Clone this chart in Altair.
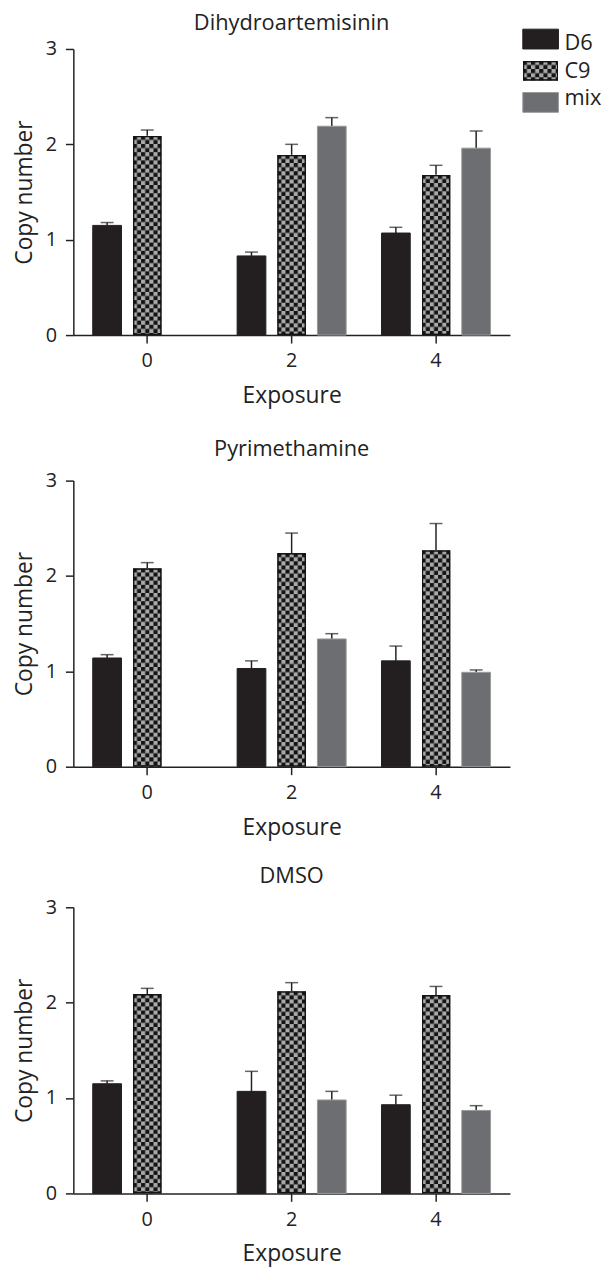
import base64
import altair as alt
import pandas as pd

FONT = "Open Sans"

exposures = ["0", "2", "4"]
series = ["D6", "C9", "mix"]
panels = ["Dihydroartemisinin", "Pyrimethamine", "DMSO"]

# mean copy number per panel / series (exposure 0, 2, 4)
dha_d6 = [1.15, 0.83, 1.07]
dha_c9 = [2.09, 1.89, 1.68]
dha_mix = [None, 2.19, 1.96]
dha_d6_err = [0.03, 0.04, 0.06]
dha_c9_err = [0.06, 0.11, 0.10]
dha_mix_err = [None, 0.09, 0.18]

pyr_d6 = [1.14, 1.03, 1.11]
pyr_c9 = [2.08, 2.24, 2.27]
pyr_mix = [None, 1.34, 0.99]
pyr_d6_err = [0.035, 0.08, 0.155]
pyr_c9_err = [0.06, 0.21, 0.28]
pyr_mix_err = [None, 0.055, 0.025]

dmso_d6 = [1.15, 1.07, 0.93]
dmso_c9 = [2.09, 2.12, 2.08]
dmso_mix = [None, 0.98, 0.87]
dmso_d6_err = [0.03, 0.21, 0.10]
dmso_c9_err = [0.06, 0.09, 0.09]
dmso_mix_err = [None, 0.09, 0.05]

panel_values = {
    "Dihydroartemisinin": [(dha_d6, dha_d6_err), (dha_c9, dha_c9_err), (dha_mix, dha_mix_err)],
    "Pyrimethamine": [(pyr_d6, pyr_d6_err), (pyr_c9, pyr_c9_err), (pyr_mix, pyr_mix_err)],
    "DMSO": [(dmso_d6, dmso_d6_err), (dmso_c9, dmso_c9_err), (dmso_mix, dmso_mix_err)],
}

fills = ["#231f20", "#141414", "#6d6e71"]
strokes = ["#231f20", "#141414", "#9a9a9c"]

# checkerboard fill drawn as an SVG image (pattern in pixel units)
c = 4.15
svg = (
    "<svg xmlns='http://www.w3.org/2000/svg' width='100%' height='100%'>"
    f"<defs><pattern id='c' width='{2*c}' height='{2*c}' patternUnits='userSpaceOnUse'>"
    f"<rect width='{2*c}' height='{2*c}' fill='#a9a9a9'/>"
    f"<rect width='{c}' height='{c}' fill='#141414'/>"
    f"<rect x='{c}' y='{c}' width='{c}' height='{c}' fill='#141414'/>"
    "</pattern></defs>"
    "<rect width='100%' height='100%' fill='url(#c)' stroke='#141414' stroke-width='3'/>"
    "</svg>"
)
CHECK_URL = "data:image/svg+xml;base64," + base64.b64encode(svg.encode()).decode()

W = 441
H = 289

rows = []
for p in panels:
    for s, (vals, errs) in zip(series, panel_values[p]):
        for e, v, er in zip(exposures, vals, errs):
            if v is None:
                continue
            rows.append({"panel": p, "series": s, "exposure": e, "value": v, "err": er})
df = pd.DataFrame(rows)

x_enc = alt.X(
    "exposure:N",
    scale=alt.Scale(domain=exposures, paddingInner=0, paddingOuter=0.012),
    axis=alt.Axis(title="Exposure", labelAngle=0),
)
xo_enc = alt.XOffset(
    "series:N", scale=alt.Scale(domain=series, paddingInner=0.284, paddingOuter=0.44)
)
y_scale = alt.Scale(domain=[0, 3], nice=False)
y_axis = alt.Axis(title="Copy number", values=[0, 1, 2, 3], grid=False)
fill_enc = alt.Fill("series:N", scale=alt.Scale(domain=series, range=fills), legend=None)
stroke_enc = alt.Stroke("series:N", scale=alt.Scale(domain=series, range=strokes), legend=None)


def panel(name, with_legend=False):
    base = alt.Chart(df).transform_filter(alt.datum.panel == name)
    err = base.transform_calculate(upper="datum.value + datum.err")
    rule = err.mark_rule(strokeWidth=1.5, color="#222").encode(
        x=x_enc, xOffset=xo_enc,
        y=alt.Y("value:Q", scale=y_scale, axis=y_axis),
        y2="upper:Q",
    )
    cap = err.mark_tick(size=13, thickness=1.5, color="#222", orient="horizontal").encode(
        x=x_enc, xOffset=xo_enc, y=alt.Y("upper:Q", scale=y_scale, axis=y_axis)
    )
    bars = base.transform_filter(alt.datum.series != "C9").mark_bar(strokeWidth=1).encode(
        x=x_enc, xOffset=xo_enc,
        y=alt.Y("value:Q", scale=y_scale, axis=y_axis),
        y2=alt.datum(0),
        fill=fill_enc, stroke=stroke_enc,
    )
    chk = base.transform_filter(alt.datum.series == "C9").mark_image(aspect=False).encode(
        x=x_enc, xOffset=xo_enc,
        y=alt.Y("value:Q", scale=y_scale, axis=y_axis),
        y2=alt.datum(0),
        url=alt.value(CHECK_URL),
    )
    main = alt.layer(rule, bars, chk, cap)
    offset = 10
    if with_legend:
        offset = -6
        leg = alt.Chart(pd.DataFrame({"series": series}))
        ly = alt.Y(
            "series:N",
            scale=alt.Scale(domain=series, range=[-20, 64], paddingInner=0.375, paddingOuter=0),
            axis=None,
        )
        lbar = leg.transform_filter(alt.datum.series != "C9").mark_bar(strokeWidth=1).encode(
            y=ly, x=alt.value(W + 13), x2=alt.value(W + 49), fill=fill_enc, stroke=stroke_enc
        )
        limg = leg.transform_filter(alt.datum.series == "C9").mark_image(aspect=False).encode(
            y=ly, x=alt.value(W + 13), x2=alt.value(W + 49), url=alt.value(CHECK_URL)
        )
        ltxt = leg.mark_text(
            align="left", baseline="middle", font=FONT, fontSize=22, color="#222"
        ).encode(y=ly, x=alt.value(W + 55), text="series:N")
        main = alt.layer(main, lbar, limg, ltxt).resolve_scale(y="independent")
    return main.properties(
        width=W,
        height=H,
        title=alt.TitleParams(name, fontSize=22, font=FONT, fontWeight="normal",
                              color="#222", offset=offset, anchor="middle"),
    )


top = alt.vconcat(panel(panels[0], True), panel(panels[1]), spacing=31)
chart = (
    alt.vconcat(top, panel(panels[2]), spacing=26)
    .properties(padding={"left": 5, "top": -3, "right": 0, "bottom": 0})
    .configure_view(stroke=None)
    .configure_axis(
        domainColor="#222", domainWidth=1.5, tickColor="#222", tickWidth=1.5, tickSize=8,
        labelFont=FONT, labelFontSize=20, labelColor="#222",
        titleFont=FONT, titleFontSize=23, titleFontWeight="normal", titleColor="#222",
    )
    .configure_axisY(labelPadding=9, titlePadding=9)
    .configure_axisX(labelPadding=8, titlePadding=14)
)

chart.save("out.html", embed_options={"renderer": "svg", "actions": False})
